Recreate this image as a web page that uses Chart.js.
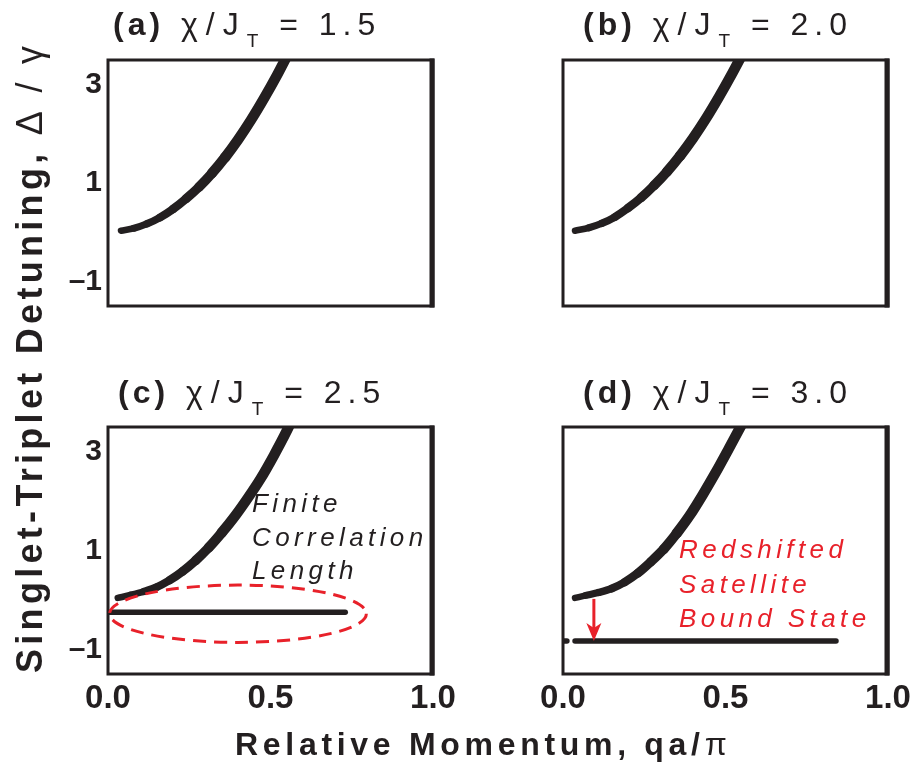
<!DOCTYPE html>
<html>
<head>
<meta charset="utf-8">
<script src="https://cdn.jsdelivr.net/npm/chart.js@4.4.0/dist/chart.umd.min.js"></script>
<style>
  html, body { margin: 0; padding: 0; background: #fff; }
  #wrap { position: relative; width: 919px; height: 774px; }
  #wrap canvas { position: absolute; left: 0; top: 0; }
</style>
</head>
<body>
<div id="wrap">
  <canvas id="pa" width="919" height="774"></canvas>
  <canvas id="pb" width="919" height="774"></canvas>
  <canvas id="pc" width="919" height="774"></canvas>
  <canvas id="pd" width="919" height="774"></canvas>
</div>
<script>
// tick values
const xTickVals = [0, 0.5, 1.0];
const yTickVals = [-1, 1, 3];

// upper branch (q in units of pi/a, detuning in units of gamma)
const qA = [0.040, 0.08, 0.12, 0.16, 0.20, 0.24, 0.28, 0.32, 0.36, 0.40, 0.44, 0.48, 0.52, 0.56];
const dA = [0.03, 0.08, 0.17, 0.30, 0.47, 0.68, 0.92, 1.20, 1.52, 1.88, 2.28, 2.72, 3.19, 3.70];

const qB = [0.037, 0.08, 0.12, 0.16, 0.20, 0.24, 0.28, 0.32, 0.36, 0.40, 0.44, 0.48, 0.52, 0.56];
const dB = [0.03, 0.09, 0.18, 0.31, 0.49, 0.70, 0.95, 1.23, 1.55, 1.91, 2.31, 2.75, 3.22, 3.72];

const qC = [0.030, 0.07, 0.11, 0.15, 0.19, 0.23, 0.27, 0.31, 0.35, 0.39, 0.43, 0.47, 0.51, 0.55, 0.57];
const dC = [0.04, 0.10, 0.17, 0.26, 0.40, 0.58, 0.80, 1.06, 1.36, 1.69, 2.06, 2.46, 2.92, 3.42, 3.70];

const qD = [0.037, 0.07, 0.11, 0.15, 0.19, 0.23, 0.27, 0.31, 0.35, 0.39, 0.43, 0.47, 0.51, 0.55, 0.57];
const dD = [0.04, 0.09, 0.15, 0.23, 0.36, 0.54, 0.77, 1.03, 1.35, 1.71, 2.13, 2.58, 3.06, 3.55, 3.80];

// bound state branch
const qFlatC = [0.004, 0.15, 0.30, 0.45, 0.60, 0.73];
const dFlatC = [-0.25, -0.25, -0.25, -0.25, -0.25, -0.25];

const qFlatD = [0.004, 0.012, 0.02, 0.037, 0.20, 0.40, 0.60, 0.84];
const dFlatD = [-0.83, -0.83, null, -0.83, -0.83, -0.83, -0.83, -0.83];

const ratios = ['1.5', '2.0', '2.5', '3.0'];

const INK = '#231f20';
const RED = '#e8212a';
const FONT = '"Liberation Sans", Arial, Helvetica, sans-serif';

function drawTitle(ctx, x, y, tag, val) {
    ctx.save();
    ctx.fillStyle = INK;
    ctx.textAlign = 'left';
    ctx.textBaseline = 'alphabetic';
    const parts = [
        { t: tag, f: 'bold 32px ' + FONT, dy: 0, ls: '4px' },
        { t: ' \u03c7/J', f: '32px ' + FONT, dy: 0, ls: '8px' },
        { t: 'T', f: '19px ' + FONT, dy: 12, ls: '6px' },
        { t: ' = ' + val, f: '32px ' + FONT, dy: 0, ls: '6px' }
    ];
    parts.forEach(p => {
        ctx.font = p.f;
        ctx.letterSpacing = p.ls;
        ctx.fillText(p.t, x, y + p.dy);
        x += ctx.measureText(p.t).width;
    });
    ctx.restore();
}

function drawLines(ctx, lines, x, ys, color) {
    ctx.save();
    ctx.fillStyle = color;
    ctx.font = 'italic 26px ' + FONT;
    ctx.letterSpacing = '4.4px';
    ctx.textAlign = 'left';
    ctx.textBaseline = 'alphabetic';
    lines.forEach((t, i) => ctx.fillText(t, x, ys[i]));
    ctx.restore();
}

// box around each panel, right edge heavier as in the original
const framePlugin = {
    id: 'frame',
    afterDraw(chart) {
        const { ctx, chartArea: a } = chart;
        ctx.save();
        ctx.strokeStyle = INK;
        ctx.lineWidth = 3;
        ctx.strokeRect(a.left, a.top, a.right - a.left, a.bottom - a.top);
        ctx.lineWidth = 5;
        ctx.beginPath();
        ctx.moveTo(a.right - 1, a.top - 1.5);
        ctx.lineTo(a.right - 1, a.bottom + 1.5);
        ctx.stroke();
        ctx.restore();
    }
};

function lineSet(qs, ds, taper) {
    const set = {
        data: qs.map((q, i) => ({ x: q, y: ds[i] })),
        borderColor: INK,
        borderWidth: 5.5,
        pointRadius: 0,
        cubicInterpolationMode: 'monotone',
        borderCapStyle: 'round',
        borderJoinStyle: 'round',
        spanGaps: false,
        clip: 0
    };
    if (taper) {
        set.segment = { borderWidth: c => 6 + 4.5 * Math.min(1, c.p1DataIndex / (qs.length * 0.6)) };
    }
    return set;
}

const panels = [
    { id: 'pa', tag: '(a)', val: ratios[0], area: [108, 60, 433, 306], titleX: 113, titleY: 35, xt: false, yt: true, q: qA, d: dA },
    { id: 'pb', tag: '(b)', val: ratios[1], area: [563, 60, 888, 306], titleX: 583, titleY: 35, xt: false, yt: false, q: qB, d: dB },
    { id: 'pc', tag: '(c)', val: ratios[2], area: [108, 427, 433, 674], titleX: 118, titleY: 403, xt: true, yt: true, q: qC, d: dC, fq: qFlatC, fd: dFlatC },
    { id: 'pd', tag: '(d)', val: ratios[3], area: [563, 427, 888, 674], titleX: 583, titleY: 403, xt: true, yt: false, q: qD, d: dD, fq: qFlatD, fd: dFlatD }
];

function extrasPlugin(p) {
    return {
        id: 'extras' + p.id,
        afterDraw(chart) {
            const ctx = chart.ctx;
            const xs = chart.scales.x, ys = chart.scales.y;
            drawTitle(ctx, p.titleX, p.titleY, p.tag, p.val);

            if (p.id === 'pc') {
                // dashed ellipse around the flat branch
                const cx = xs.getPixelForValue(0.40), cy = ys.getPixelForValue(-0.28);
                const rx = xs.getPixelForValue(0.795) - cx;
                const ry = ys.getPixelForValue(-0.86) - cy;
                ctx.save();
                ctx.strokeStyle = RED;
                ctx.lineWidth = 3;
                ctx.setLineDash([13, 8]);
                ctx.beginPath();
                ctx.ellipse(cx, cy, rx, ry, 0, 0, Math.PI * 2);
                ctx.stroke();
                ctx.restore();
                drawLines(ctx, ['Finite', 'Correlation', 'Length'], xs.getPixelForValue(0.443),
                    [1.78, 1.10, 0.42].map(v => ys.getPixelForValue(v)), INK);
            }

            if (p.id === 'pd') {
                const ax = xs.getPixelForValue(0.095);
                const y0 = ys.getPixelForValue(0.02), y1 = ys.getPixelForValue(-0.83);
                ctx.save();
                ctx.strokeStyle = RED;
                ctx.fillStyle = RED;
                ctx.lineWidth = 3;
                ctx.beginPath();
                ctx.moveTo(ax, y0);
                ctx.lineTo(ax, y1 - 12);
                ctx.stroke();
                ctx.beginPath();
                ctx.moveTo(ax - 7.5, y1 - 18);
                ctx.lineTo(ax, y1);
                ctx.lineTo(ax + 7.5, y1 - 18);
                ctx.lineTo(ax, y1 - 13);
                ctx.closePath();
                ctx.fill();
                ctx.restore();
                drawLines(ctx, ['Redshifted', 'Satellite', 'Bound State'], xs.getPixelForValue(0.357),
                    [0.85, 0.14, -0.55].map(v => ys.getPixelForValue(v)), RED);

                // shared axis titles
                ctx.save();
                ctx.fillStyle = INK;
                ctx.textAlign = 'left';
                ctx.textBaseline = 'alphabetic';
                ctx.letterSpacing = '4.7px';
                ctx.font = 'bold 32px ' + FONT;
                let x = 235;
                ctx.fillText('Relative Momentum, qa/', x, 755);
                x += ctx.measureText('Relative Momentum, qa/').width;
                ctx.font = '32px ' + FONT;
                ctx.fillText('\u03c0', x, 755);

                ctx.translate(42, 673);
                ctx.rotate(-Math.PI / 2);
                ctx.letterSpacing = '4.3px';
                ctx.font = 'bold 36px ' + FONT;
                const yl = 'Singlet-Triplet Detuning, ';
                ctx.fillText(yl, 0, 0);
                const w = ctx.measureText(yl).width;
                ctx.font = '36px ' + FONT;
                ctx.fillText('\u0394 / \u03b3', w, 0);
                ctx.restore();
            }
        }
    };
}

const YW = 60, XH = 60;

panels.forEach(p => {
    const [L, T, R, B] = p.area;
    const datasets = [lineSet(p.q, p.d, true)];
    if (p.fq) datasets.push(lineSet(p.fq, p.fd, false));

    new Chart(document.getElementById(p.id), {
        type: 'line',
        data: { datasets },
        options: {
            responsive: false,
            animation: false,
            events: [],
            layout: { padding: { left: L - YW, top: T, right: 919 - R, bottom: 774 - B - XH } },
            plugins: { legend: { display: false }, tooltip: { enabled: false }, title: { display: false } },
            scales: {
                x: {
                    type: 'linear', min: 0, max: 1,
                    grid: { display: false, drawTicks: false },
                    border: { display: false },
                    afterFit: s => { s.height = XH; },
                    afterBuildTicks: s => { s.ticks = xTickVals.map(v => ({ value: v })); },
                    ticks: {
                        display: p.xt, padding: 5, color: INK, autoSkip: false, maxRotation: 0,
                        font: { family: FONT, size: 33, weight: 'bold' },
                        callback: v => v.toFixed(1)
                    }
                },
                y: {
                    type: 'linear', min: -1.5, max: 3.5,
                    grid: { display: false, drawTicks: false },
                    border: { display: false },
                    afterFit: s => { s.width = YW; },
                    afterBuildTicks: s => { s.ticks = yTickVals.map(v => ({ value: v })); },
                    ticks: {
                        display: p.yt, padding: 6, color: INK, autoSkip: false,
                        font: { family: FONT, size: 30, weight: 'bold' },
                        callback: v => v < 0 ? '\u2013' + Math.abs(v) : String(v)
                    }
                }
            }
        },
        plugins: [framePlugin, extrasPlugin(p)]
    });
});
</script>
</body>
</html>
